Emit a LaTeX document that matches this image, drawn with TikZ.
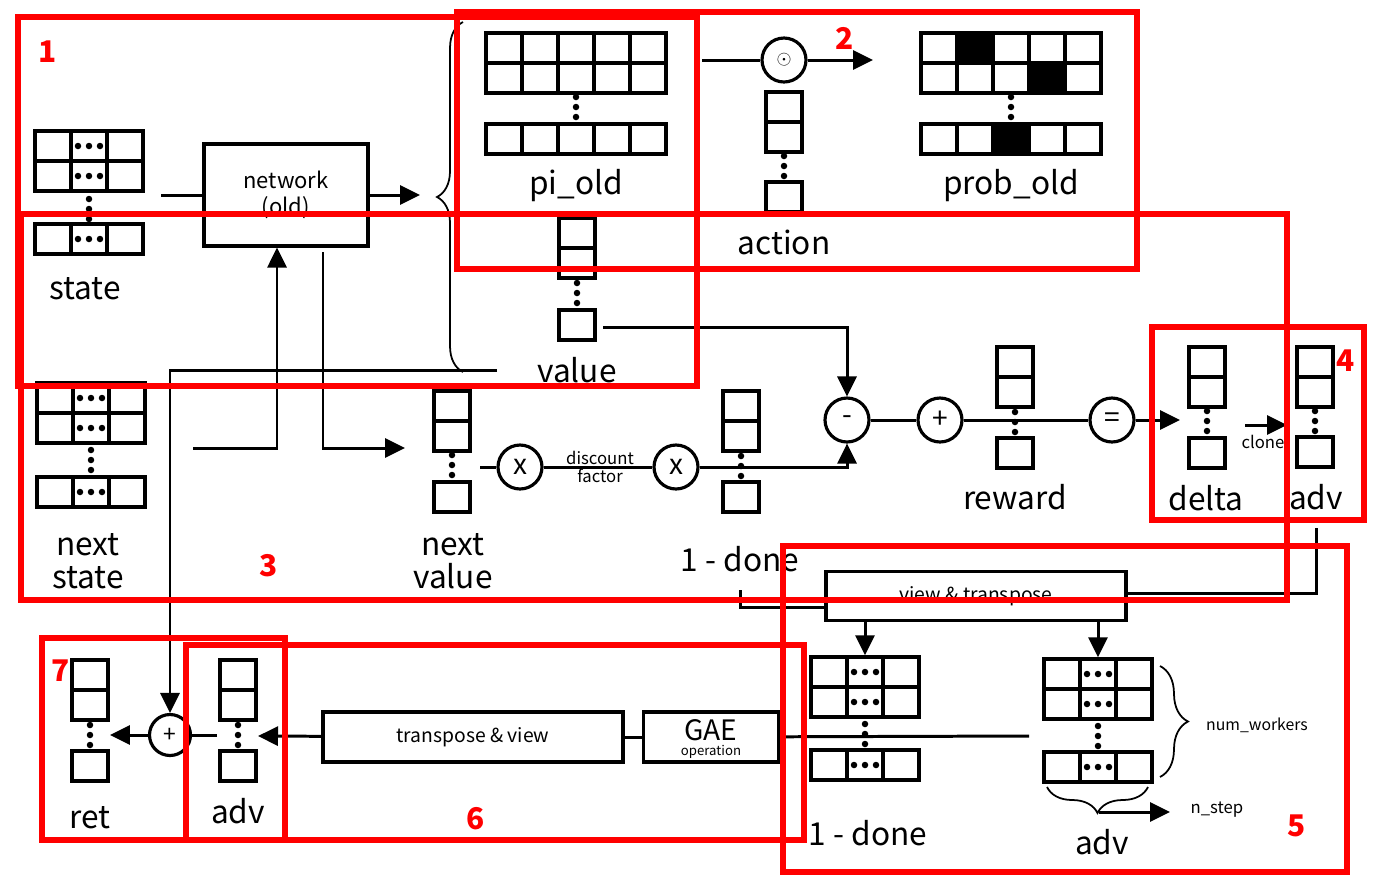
\documentclass[tikz,border=0pt]{standalone}
\usepackage{fontspec}
\setmainfont{Noto Sans CJK SC}
\usetikzlibrary{arrows.meta,decorations.pathreplacing}

\begin{document}
\begin{tikzpicture}[x=0.02cm, y=-0.02cm,
  cell/.style={draw, line width=1.9pt, minimum width=0.72cm, minimum height=0.6cm, inner sep=0pt},
  dcell/.style={cell, path picture={\foreach \k in {-0.22,0,0.22} \fill ([xshift=\k cm]path picture bounding box.center) circle (0.065cm);}},
  vdots/.style={minimum width=0.2cm, minimum height=0.6cm, inner sep=0pt, path picture={\foreach \k in {-0.2,0,0.2} \fill ([yshift=\k cm]path picture bounding box.center) circle (0.065cm);}},
  op/.style={draw, circle, line width=1.8pt, minimum size=0.88cm, inner sep=0pt, font=\fontsize{16}{16}\selectfont},
  box/.style={draw, line width=1.8pt, inner sep=0pt},
  lbl/.style={font=\fontsize{18}{19}\selectfont, align=center, inner sep=0pt},
  small/.style={font=\fontsize{9.5}{10.2}\selectfont, align=center, inner sep=0pt},
  wire/.style={line width=1.7pt},
  arr/.style={wire, -{Triangle[length=0.4cm, width=0.38cm]}},
  brc/.style={decorate, line width=1pt},
  redbox/.style={draw=red, line width=0.12cm},
  num/.style={text=red, font=\fontsize{17}{17}\selectfont\bfseries, inner sep=0pt}
]
\useasboundingbox (0,0) rectangle (1383,894);

% state
\foreach \r/\y in {0/146,1/176,2/239} {
  \node[cell] (st-\r-0) at (53,\y) {};
  \node[dcell] (st-\r-1) at (89,\y) {};
  \node[cell] (st-\r-2) at (125,\y) {};
}
\node[vdots] (st-dots) at (89,209) {};
\node[lbl] (st-lbl) at (85,289) {state};

% next state
\foreach \r/\y in {0/398,1/428,2/492} {
  \node[cell] (ns-\r-0) at (55,\y) {};
  \node[dcell] (ns-\r-1) at (91,\y) {};
  \node[cell] (ns-\r-2) at (127,\y) {};
}
\node[vdots] (ns-dots) at (91,460) {};
\node[lbl] (ns-lbl) at (88,561) {next\\state};

% network
\node[box, minimum width=3.28cm, minimum height=2.04cm, align=center,
  font=\fontsize{12.5}{14.5}\selectfont] (net) at (286,195) {network\\(old)};
\coordinate (st-out) at (161,195);
\coordinate (br-in) at (420,195);
\draw[wire] (st-out) -- (net);
\draw[arr] (net) -- (br-in);
\coordinate (ns-out) at (193,448);
\draw[arr] (ns-out) -| ([xshift=-0.18cm]net.south);
\coordinate (net-dn) at (323,252);
\coordinate (nv-in) at (405,448);
\draw[arr] (net-dn) |- (nv-in);

% pi_old
\foreach \c in {0,...,4} {
  \node[cell] (pi-0-\c) at ({504+36*\c},48) {};
  \node[cell] (pi-1-\c) at ({504+36*\c},78) {};
  \node[cell] (pi-2-\c) at ({504+36*\c},139) {};
}
\node[vdots] (pi-dots) at (576,107) {};
\node[lbl] (pi-lbl) at (576,186) {pi\_old};

% prob_old
\foreach \c/\a/\b/\e in {0/white/white/white,1/black/white/white,2/white/white/black,3/white/black/white,4/white/white/white} {
  \node[cell, fill=\a] (pr-0-\c) at ({939+36*\c},48) {};
  \node[cell, fill=\b] (pr-1-\c) at ({939+36*\c},78) {};
  \node[cell, fill=\e] (pr-2-\c) at ({939+36*\c},139) {};
}
\node[vdots] (pr-dots) at (1011,107) {};
\node[lbl] (pr-lbl) at (1011,186) {prob\_old};

% action
\node[op, font=\fontsize{11}{11}\selectfont] (od) at (784,60) {$\odot$};
\coordinate (pi-out) at (702,60);
\coordinate (pr-in) at (873,60);
\draw[wire] (pi-out) -- (od);
\draw[arr] (od) -- (pr-in);
\node[cell] (ac-0) at (784,107) {};
\node[cell] (ac-1) at (784,137) {};
\node[vdots] (ac-dots) at (784,166) {};
\node[cell] (ac-2) at (784,197) {};
\node[lbl] (ac-lbl) at (784,242) {action};

% value
\node[cell] (va-0) at (577,233) {};
\node[cell] (va-1) at (577,263) {};
\node[vdots] (va-dots) at (577,293) {};
\node[cell] (va-2) at (577,325) {};
\node[lbl] (va-lbl) at (577,370) {value};
\draw[brc, decoration={brace, amplitude=0.52cm}] (463,372) -- (463,22);

% next value and 1 - done
\node[cell] (nv-0) at (452,406) {};
\node[cell] (nv-1) at (452,436) {};
\node[vdots] (nv-dots) at (452,465) {};
\node[cell] (nv-2) at (452,497) {};
\node[lbl] (nv-lbl) at (453,561) {next\\value};
\node[op] (x1) at (520,467) {x};
\node[op] (x2) at (676,467) {x};
\node[small] (df) at (600,467) {discount\\factor};
\coordinate (nv-out) at (480,467);
\draw[wire] (nv-out) -- (x1);
\draw[wire] (x1) -- (x2);
\node[cell] (dn-0) at (741,406) {};
\node[cell] (dn-1) at (741,436) {};
\node[vdots] (dn-dots) at (741,466) {};
\node[cell] (dn-2) at (741,497) {};
\node[lbl] (dn-lbl) at (740,559) {1 - done};

% delta
\node[op] (mi) at (847,420) {-};
\node[op] (pl) at (940,420) {+};
\node[op] (eq) at (1112,420) {=};
\coordinate (va-out) at (603,327);
\coordinate (va-end) at (497,370);
\draw[arr] (va-out) -| (mi);
\draw[arr] (x2) -| (mi);
\draw[wire] (mi) -- (pl);
\draw[wire] (pl) -- (eq);
\node[cell] (rw-0) at (1015,362) {};
\node[cell] (rw-1) at (1015,392) {};
\node[vdots] (rw-dots) at (1015,422) {};
\node[cell] (rw-2) at (1015,453) {};
\node[lbl] (rw-lbl) at (1015,497) {reward};
\node[cell] (de-0) at (1207,362) {};
\node[cell] (de-1) at (1207,392) {};
\node[vdots] (de-dots) at (1207,421) {};
\node[cell] (de-2) at (1207,453) {};
\node[lbl] (de-lbl) at (1206,498) {delta};
\coordinate (de-in) at (1180,420);
\draw[arr] (eq) -- (de-in);
\coordinate (cl-a) at (1245,425);
\coordinate (cl-b) at (1287,425);
\draw[arr] (cl-a) -- (cl-b);
\node[small] (cl-lbl) at (1263,442) {clone};
\node[cell] (av-0) at (1315,362) {};
\node[cell] (av-1) at (1315,392) {};
\node[vdots] (av-dots) at (1315,421) {};
\node[cell] (av-2) at (1315,452) {};
\node[lbl] (av-lbl) at (1316,497) {adv};

% view & transpose
\node[box, minimum width=6cm, minimum height=0.98cm, font=\fontsize{11}{12}\selectfont] (vt) at (976,596) {view \& transpose};
\coordinate (av-dn) at (1316,528);
\draw[wire] (av-dn) |- ([yshift=0.06cm]vt.east);
\coordinate (dn-dn) at (740,590);
\draw[wire] (dn-dn) |- ([yshift=-0.22cm]vt.west);
\foreach \r/\y in {0/672,1/702,2/765} {
  \node[cell] (dg-\r-0) at (829,\y) {};
  \node[dcell] (dg-\r-1) at (865,\y) {};
  \node[cell] (dg-\r-2) at (901,\y) {};
}
\node[vdots] (dg-dots) at (865,734) {};
\node[lbl] (dg-lbl) at (868,833) {1 - done};
\foreach \r/\y in {0/674,1/704,2/767} {
  \node[cell] (ag-\r-0) at (1062,\y) {};
  \node[dcell] (ag-\r-1) at (1098,\y) {};
  \node[cell] (ag-\r-2) at (1134,\y) {};
}
\node[vdots] (ag-dots) at (1098,736) {};
\node[lbl] (ag-lbl) at (1102,842) {adv};
\draw[arr] (vt.south -| dg-0-1) -- (dg-0-1);
\draw[arr] (vt.south -| ag-0-1) -- (ag-0-1);
\draw[brc, decoration={brace, amplitude=0.56cm}] (1160,666) -- (1160,777);
\node[small, font=\fontsize{9}{10}\selectfont] (nw-lbl) at (1257,725) {num\_workers};
\draw[brc, decoration={brace, amplitude=0.52cm}] (1148,787) -- (1047,787);
\coordinate (stp-a) at (1099,812);
\coordinate (stp-b) at (1170,812);
\draw[arr] (stp-a) -- (stp-b);
\node[small] (stp-lbl) at (1217,810) {n\_step};

% GAE and return
\node[box, minimum width=2.7cm, minimum height=1cm] (gae) at (711,737) {};
\node[font=\fontsize{16}{16}\selectfont, inner sep=0pt] (gae-t) at (711,730) {GAE};
\node[font=\fontsize{7.5}{8}\selectfont, inner sep=0pt] (gae-s) at (711,752) {operation};
\node[box, minimum width=6cm, minimum height=1cm, font=\fontsize{11}{12}\selectfont] (tv) at (473,737) {transpose \& view};
\coordinate (ag-out) at (1029,736);
\draw[wire] (ag-out) -- (gae);
\draw[wire] (gae) -- (tv);
\coordinate (ab-in) at (258,736);
\draw[arr] (tv) -- (ab-in);
\node[cell] (ab-0) at (238,675) {};
\node[cell] (ab-1) at (238,705) {};
\node[vdots] (ab-dots) at (238,735) {};
\node[cell] (ab-2) at (238,766) {};
\node[lbl] (ab-lbl) at (238,811) {adv};
\node[cell] (rt-0) at (90,675) {};
\node[cell] (rt-1) at (90,705) {};
\node[vdots] (rt-dots) at (90,735) {};
\node[cell] (rt-2) at (90,766) {};
\node[lbl] (rt-lbl) at (90,818) {ret};
\node[op, minimum size=0.82cm, font=\fontsize{13}{13}\selectfont] (rp) at (170,735) {+};
\coordinate (ab-out) at (217,735);
\coordinate (rt-in) at (110,735);
\draw[wire] (ab-out) -- (rp);
\draw[arr] (rp) -- (rt-in);
\draw[arr] (va-end) -| (rp);

% red marks
\draw[redbox] (18,17) rectangle (697,386);
\draw[redbox] (457,12) rectangle (1137,269);
\draw[redbox] (21,214) rectangle (1287,600);
\draw[redbox] (1152,327) rectangle (1364,520);
\draw[redbox] (783,546) rectangle (1347,872);
\draw[redbox] (186,645) rectangle (804,840);
\draw[redbox] (42,638) rectangle (285,840);
\node[num] (n1) at (48,52) {1};
\node[num] (n2) at (845,38) {2};
\node[num] (n3) at (269,566) {3};
\node[num] (n4) at (1346,361) {4};
\node[num] (n5) at (1297,826) {5};
\node[num] (n6) at (476,819) {6};
\node[num] (n7) at (61,671) {7};
\end{tikzpicture}
\end{document}
